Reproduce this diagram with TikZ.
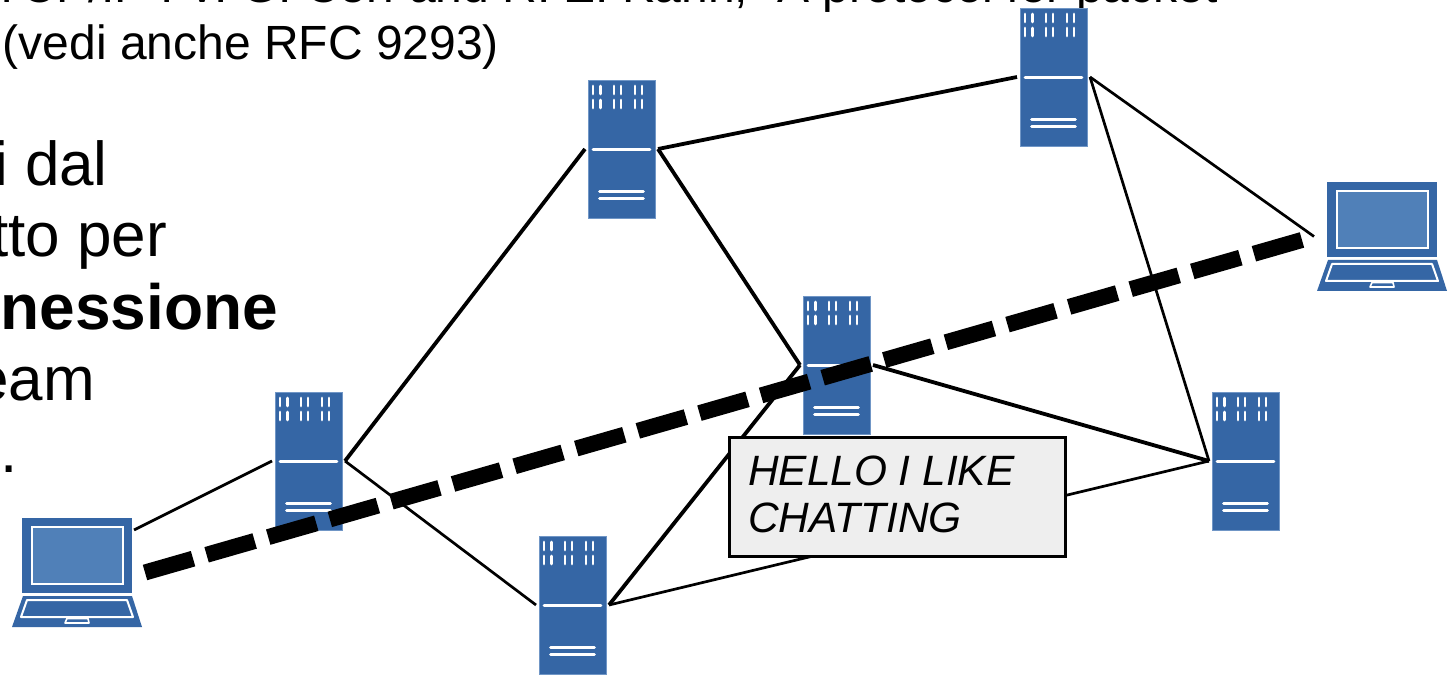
\documentclass[tikz,border=0pt]{standalone}
\usepackage{fontspec}
\setmainfont{Liberation Sans}
\tikzset{
  serverbox/.style={draw=srvedge,line width=0.6pt,fill=srv,minimum width=66.6pt,minimum height=138pt,inner sep=0pt,outer sep=3.2pt},
  laptopbox/.style={minimum width=130pt,minimum height=109pt,inner sep=0pt,outer sep=3pt},
  wline/.style={draw=white,line width=2.8pt,line cap=round},
  wthin/.style={draw=white,line width=1.6pt},
  thinlink/.style={draw=black,line width=2.7pt},
  thicklink/.style={draw=black,line width=3.8pt},
  stream/.style={draw=black,line width=16pt,dash pattern=on 50pt off 14.1pt},
  callout/.style={draw=black,line width=3pt,fill=calloutfill,minimum width=336pt,minimum height=119pt,inner sep=0pt},
  bigtext/.style={font=\fontsize{62}{72}\selectfont,inner sep=0pt,anchor=base east},
  reftext/.style={font=\fontsize{48}{58}\selectfont,inner sep=0pt,anchor=base west},
  hellotext/.style={font=\fontsize{42.4}{47}\selectfont\itshape,inner sep=0pt,anchor=base west}
}
\definecolor{srv}{HTML}{3566A5}
\definecolor{srvedge}{HTML}{7096C6}
\definecolor{scr}{HTML}{5080B8}
\definecolor{calloutfill}{HTML}{EEEEEE}
\newcommand{\serverat}[3]{%
  \node[serverbox] (#1) at (#2,#3) {};
  \begin{scope}[shift={(#1.center)}]
    \foreach \bx in {-28.5,-21,-7.5,-0.5,13.5,20.5} {
      \draw[wline] (\bx,-63) -- (\bx,-55);
      \draw[wline] (\bx,-49) -- (\bx,-41);
    }
    \draw[wline] (-28.5,0.3) -- (28.5,0.3);
    \draw[wline] (-22,42.3) -- (22,42.3);
    \draw[wline] (-22,49.3) -- (22,49.3);
  \end{scope}}
\newcommand{\laptopat}[3]{%
  \node[laptopbox] (#1) at (#2,#3) {};
  \begin{scope}[shift={(#1.center)}]
    \fill[srv] (-55,-54.5) rectangle (55,20.5);
    \filldraw[fill=scr,draw=white,line width=2pt] (-45,-45.5) rectangle (46,11.5);
    \fill[srv] (-54,23.5) -- (55,23.5) -- (65,54.5) -- (-65,54.5) -- cycle;
    \draw[wthin,line width=2pt,line join=round] (-50,27.5) -- (50,27.5) -- (56,44.5) -- (-56,44.5) -- cycle;
    \draw[wthin,line join=round] (-10,46) -- (11,46) -- (12,50.5) -- (-12,50.5) -- cycle;
  \end{scope}}
\begin{document}
\begin{tikzpicture}[x=1pt,y=-1pt]
\useasboundingbox (0,0) rectangle (1456,676);
\clip (0,0) rectangle (1456,676);
\fill[white] (0,0) rectangle (1456,676);
% text
\node[reftext] (topline) at (-8,3) {TCP/IP : V. G. Cerf and R. E. Kahn, “A protocol for packet};
\node[reftext] (vedi) at (2.5,59.5) {(vedi anche RFC 9293)};
\node[bigtext] (dal) at (108,186) {i dal};
\node[bigtext] (per) at (167,257) {tto per};
\node[bigtext,font=\fontsize{64}{72}\selectfont\bfseries] (nessione) at (278,329) {nessione};
\node[bigtext] (eam) at (95,400) {eam};
\node[bigtext] (dot) at (18,472) {.};
% devices
\serverat{sa}{308.5}{461}
\serverat{sb}{621.5}{149}
\serverat{sc}{1053.5}{77}
\serverat{sd}{836.5}{365}
\serverat{se}{1245.5}{461}
\serverat{sf}{572.5}{605}
\laptopat{la}{77}{572.5}
\laptopat{lb}{1382}{236.5}
\coordinate (latop) at (134,530);
% links
\draw[thinlink] (latop) -- (sa.west);
\draw[thicklink] (sa.east) -- (sb.west);
\draw[thinlink] (sa.east) -- (sf.west);
\draw[thicklink] (sb.east) -- (sc.west);
\draw[thicklink] (sb.east) -- (sd.west);
\draw[thicklink] (sf.east) -- (sd.west);
\draw[thinlink] (sf.east) -- (se.west);
\draw[thicklink] (sd.east) -- (se.west);
\draw[thinlink] (sc.east) -- (se.west);
\draw[thinlink] (sc.east) -- (lb.west);
% stream
\draw[stream] (la.east) -- (lb.west);
% callout
\node[callout] (hello) at (897,496.5) {};
\node[hellotext] (h1) at (748,485) {HELLO I LIKE};
\node[hellotext] (h2) at (748,532) {CHATTING};
\end{tikzpicture}
\end{document}
